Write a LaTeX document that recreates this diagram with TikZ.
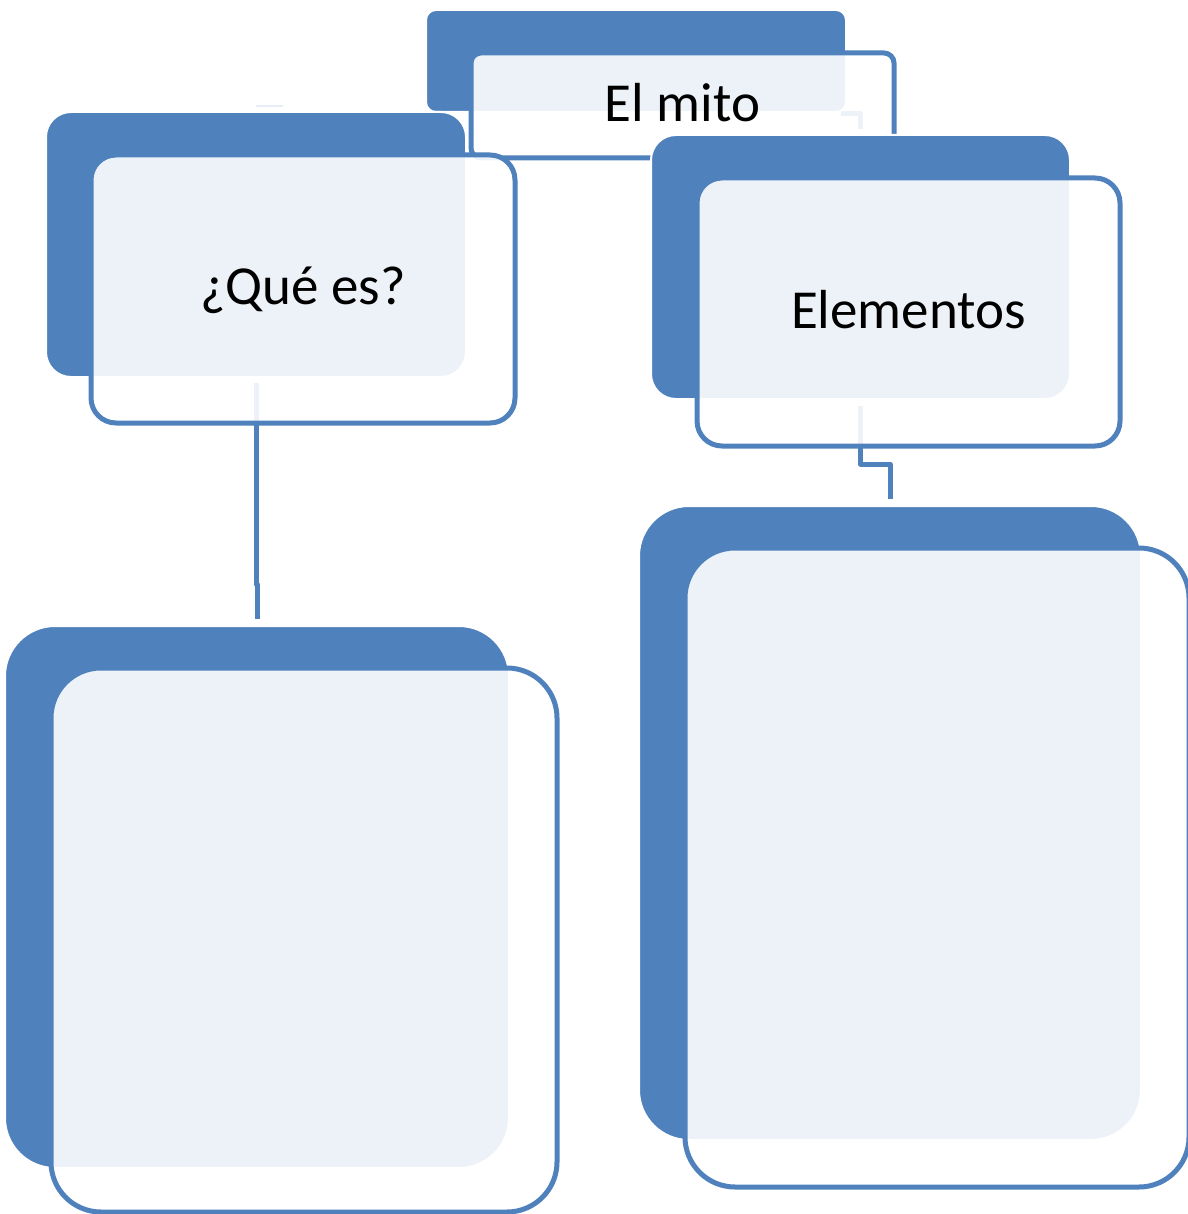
\documentclass[tikz,border=0pt]{standalone}
\usepackage{fontspec}
\setmainfont{Carlito}
\definecolor{accblue}{RGB}{79,129,189}
\definecolor{paleblue}{RGB}{232,238,247}
\pgfdeclarelayer{bg}
\pgfsetlayers{bg,main}
\begin{document}
\begin{tikzpicture}[x=1pt,y=-1pt,
  backbox/.style={rectangle, fill=accblue, draw=white, line width=2pt, inner sep=0pt, outer sep=0pt},
  frontbox/.style={rectangle, fill=white, fill opacity=0.9, draw=accblue, draw opacity=1, line width=5pt, inner sep=0pt, outer sep=0pt},
  conn/.style={draw=accblue, line width=5pt, line join=round},
  faintconn/.style={draw=paleblue, line width=2pt},
  lbl/.style={text=black, font=\fontsize{55pt}{66pt}\selectfont, inner sep=0pt, anchor=base}]
\useasboundingbox (0,0) rectangle (1187,1214);
% El mito
\node[backbox, minimum width=420pt, minimum height=102pt, rounded corners=10pt] (mitoB) at (636,61) {};
\node[frontbox, minimum width=423pt, minimum height=105pt, rounded corners=10pt] (mitoF) at (682.5,105.5) {};
% Que es
\node[backbox, minimum width=420pt, minimum height=265pt, rounded corners=25pt] (queB) at (256,244.5) {};
\node[frontbox, minimum width=424pt, minimum height=268pt, rounded corners=25pt] (queF) at (303,289) {};
% Elementos
\node[backbox, minimum width=419pt, minimum height=264pt, rounded corners=25pt] (elB) at (860.5,267) {};
\node[frontbox, minimum width=423pt, minimum height=268pt, rounded corners=25pt] (elF) at (908.5,312) {};
% bottom left
\node[backbox, minimum width=504pt, minimum height=542pt, rounded corners=50pt] (blB) at (257,897) {};
\node[frontbox, minimum width=506pt, minimum height=544pt, rounded corners=50pt] (blF) at (304,940) {};
% bottom right
\node[backbox, minimum width=502pt, minimum height=634pt, rounded corners=50pt] (brB) at (890,823) {};
\node[frontbox, minimum width=504pt, minimum height=639pt, rounded corners=50pt] (brF) at (937,867.5) {};
% labels
\node[lbl] (mitoT) at (682.5,122) {El mito};
\node[lbl] (queT) at (303,305) {¿Qué es?};
\node[lbl] (elT) at (908.5,328) {Elementos};
% connectors
\begin{pgfonlayer}{bg}
\draw[faintconn] ([yshift=6pt]queB.north) -- ++(27,0);
\draw[conn] ([xshift=-5pt,yshift=-2pt]mitoB.south east) -| ([yshift=6pt]elB.north);
\draw[conn] ([yshift=-6pt]queB.south) -- ++(0,201) -| ([yshift=7pt]blB.north);
\draw[conn] ([yshift=-7pt]elB.south) -- ++(0,58) -| ([yshift=7pt]brB.north);
\end{pgfonlayer}
\end{tikzpicture}
\end{document}
